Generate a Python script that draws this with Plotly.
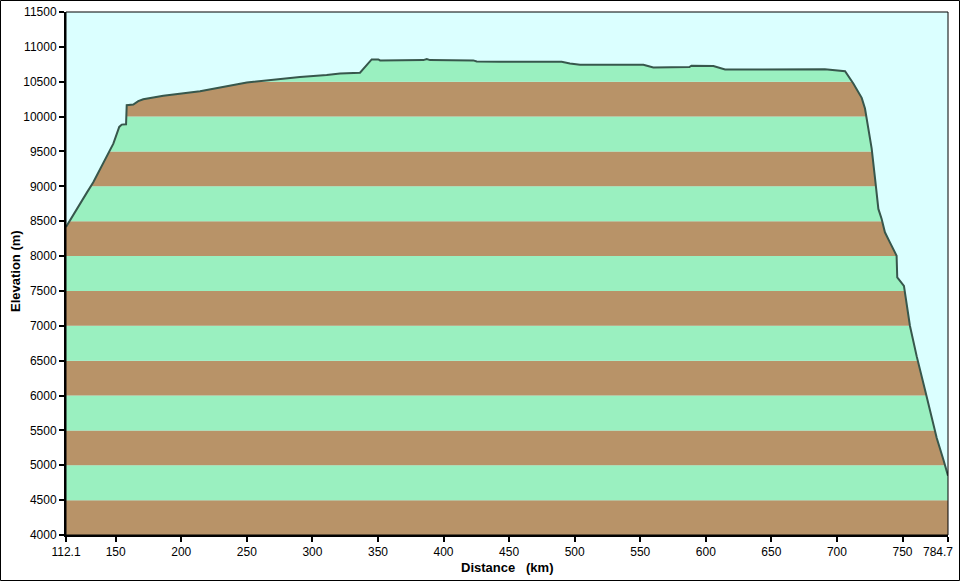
import plotly.graph_objects as go

# ---- data ----
distance_km = [112.1, 117.5, 122.8, 128.0, 132.9, 134.2, 140.5, 148.2, 152.7, 154.6,
               157.9, 158.4, 163.4, 167.2, 171.0, 186.3, 214.3, 250.0, 290.5, 300.7,
               310.9, 321.1, 336.3, 345.2, 350.3, 351.6, 384.6, 387.2, 389.7, 422.7,
               425.3, 443.1, 490.1, 496.4, 504.1, 552.4, 560.0, 587.5, 589.0, 605.8,
               614.7, 690.8, 706.2, 712.5, 718.9, 721.4, 723.9, 726.5, 729.1, 731.6,
               734.1, 736.6, 740.4, 745.5, 746.0, 751.1, 755.7, 760.8, 767.1, 774.8,
               776.1, 781.2, 784.7]
elevation_m = [8417, 8590, 8748, 8910, 9060, 9108, 9348, 9612, 9852, 9885,
               9889, 10163, 10173, 10221, 10249, 10298, 10364, 10489, 10567, 10580,
               10595, 10619, 10629, 10820, 10820, 10806, 10810, 10825, 10810, 10806,
               10791, 10786, 10786, 10763, 10744, 10744, 10705, 10710, 10729, 10724,
               10676, 10678, 10652, 10475, 10269, 10115, 9827, 9540, 9108, 8676,
               8532, 8341, 8197, 8005, 7694, 7573, 6997, 6565, 6086, 5486,
               5391, 5079, 4850]

x_tickvals = [112.1, 150, 200, 250, 300, 350, 400, 450, 500, 550, 600, 650, 700, 750, 784.7]
x_ticktext = ["112.1", "150", "200", "250", "300", "350", "400", "450", "500", "550",
              "600", "650", "700", "750", ""]
x_end_label = "784.7"
y_tickvals = list(range(4000, 11501, 500))
y_ticktext = [str(v) for v in y_tickvals]
band_edges = list(range(4000, 11501, 500))

X_MIN, X_MAX = 112.1, 784.7
Y_MIN, Y_MAX = 4000, 11500

SKY = "#DBFFFF"
GREEN = "#9AF0C0"
BROWN = "#B89368"
LINE = "#37574C"
FONT = "Liberation Sans, Arial, sans-serif"

W, H = 960, 581
ML, MR, MT, MB = 66, 12, 12, 46
PW, PH = W - ML - MR, H - MT - MB

shapes = []
for i in range(len(band_edges) - 1):
    shapes.append(dict(type="rect", xref="x", yref="y", layer="below",
                       x0=X_MIN, x1=X_MAX, y0=band_edges[i], y1=band_edges[i + 1],
                       fillcolor=BROWN if i % 2 == 0 else GREEN, line=dict(width=0)))
# plot frame
shapes.append(dict(type="rect", xref="paper", yref="paper", x0=0, x1=1, y0=0, y1=1,
                   line=dict(color="black", width=1), layer="above"))
# outer figure border
shapes.append(dict(type="rect", xref="paper", yref="paper",
                   x0=(0.5 - ML) / PW, x1=(W - 0.5 - ML) / PW,
                   y0=(MT + PH - (H - 0.5)) / PH, y1=(MT + PH - 0.5) / PH,
                   line=dict(color="black", width=1), layer="above"))

fig = go.Figure()
fig.add_trace(go.Scatter(x=[X_MIN, X_MAX], y=[Y_MAX, Y_MAX], mode="lines",
                         line=dict(width=0, color=SKY), hoverinfo="skip", showlegend=False))
fig.add_trace(go.Scatter(x=distance_km, y=elevation_m, mode="lines", fill="tonexty",
                         fillcolor=SKY, line=dict(color=LINE, width=2),
                         showlegend=False))

fig.update_layout(
    width=W, height=H,
    margin=dict(l=ML, r=MR, t=MT, b=MB, pad=0, autoexpand=False),
    paper_bgcolor="white", plot_bgcolor=SKY,
    font=dict(family=FONT, size=12, color="black"),
    shapes=shapes,
    showlegend=False,
    xaxis=dict(range=[X_MIN, X_MAX], tickvals=x_tickvals, ticktext=x_ticktext,
               showgrid=False, zeroline=False, showline=True, linecolor="black",
               linewidth=2, ticks="outside", ticklen=5, tickwidth=2, tickcolor="black",
               automargin=False,
               tickfont=dict(family=FONT, size=12)),
    yaxis=dict(range=[Y_MIN, Y_MAX], tickvals=y_tickvals, ticktext=y_ticktext,
               showgrid=False, zeroline=False, showline=True, linecolor="black",
               linewidth=2, ticks="outside", ticklen=5, tickwidth=2, tickcolor="black",
               automargin=False,
               tickfont=dict(family=FONT, size=12)),
    annotations=[
        dict(text=x_end_label, xref="paper", yref="paper",
             x=(955 - ML) / PW, y=(MT + PH - 551.5) / PH, showarrow=False,
             xanchor="right", yanchor="middle", font=dict(family=FONT, size=12)),
        dict(text="<b>Distance\u00a0\u00a0\u00a0(km)</b>", xref="paper", yref="paper",
             x=(507 - ML) / PW, y=(MT + PH - 567) / PH, showarrow=False,
             xanchor="center", yanchor="middle", font=dict(family=FONT, size=13)),
        dict(text="<b>Elevation (m)</b>", xref="paper", yref="paper",
             x=(15 - ML) / PW, y=(MT + PH - 271) / PH, showarrow=False, textangle=-90,
             xanchor="center", yanchor="middle", font=dict(family=FONT, size=13)),
    ],
)

fig.write_html("out.html")
